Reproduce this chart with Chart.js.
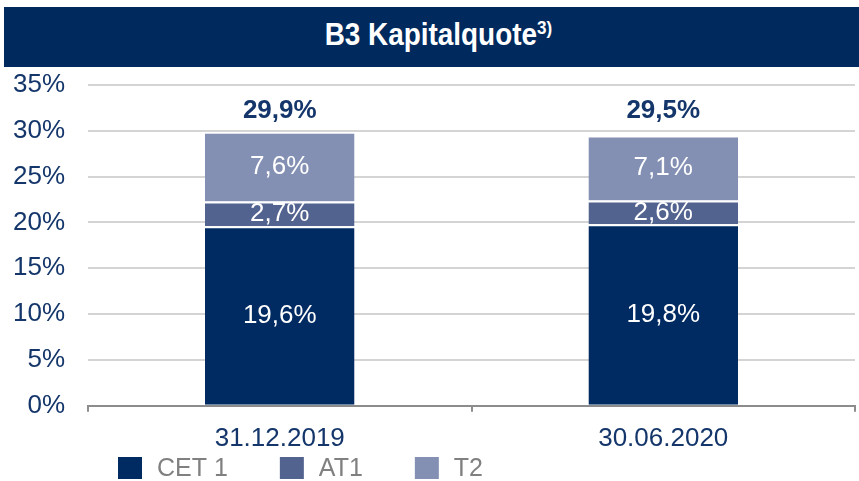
<!DOCTYPE html>
<html>
<head>
<meta charset="utf-8">
<script src="https://cdn.jsdelivr.net/npm/chart.js@4/dist/chart.umd.min.js"></script>
<style>
  html, body { margin: 0; padding: 0; background: #ffffff; }
  #wrap { position: relative; width: 859px; height: 481px; }
  #title {
    position: absolute; left: 4px; top: 7px; width: 855px; height: 60px;
    background: #002a5e; color: #ffffff; text-align: center;
    font-family: "Liberation Sans", Arial, sans-serif; font-weight: bold;
    font-size: 31px; line-height: 55px; padding-left: 14px; box-sizing: border-box;
    overflow: hidden; z-index: 2;
  }
  #title span { display: inline-block; transform: scale(0.9, 1); }
  #title sup { font-size: 19px; line-height: 0; vertical-align: 11px; }
  canvas { position: absolute; left: 0; top: 0; }
</style>
</head>
<body>
<div id="wrap">
  <div id="title"><span>B3 Kapitalquote<sup>3)</sup></span></div>
  <canvas id="c" width="859" height="481"></canvas>
</div>
<script>
const categories = ["31.12.2019", "30.06.2020"];
const seriesNames = ["CET 1", "AT1", "T2"];
const cet1 = [19.6, 19.8];
const at1 = [2.7, 2.6];
const t2 = [7.6, 7.1];
const totals = [29.9, 29.5];
const yTicks = [0, 5, 10, 15, 20, 25, 30, 35];

const colors = ["#002b62", "#52638f", "#8390b3"];
const navy = "#14366a";
const FONT = "'Liberation Sans', Arial, sans-serif";
const fmt = v => v.toFixed(1).replace('.', ',') + '%';

const labelPlugin = {
  id: 'barLabels',
  afterDatasetsDraw(chart) {
    const ctx = chart.ctx;
    ctx.save();
    ctx.textAlign = 'center';
    ctx.textBaseline = 'middle';
    ctx.font = "26px " + FONT;
    ctx.fillStyle = '#ffffff';
    chart.data.datasets.forEach((ds, di) => {
      const meta = chart.getDatasetMeta(di);
      meta.data.forEach((bar, i) => {
        const yc = (bar.y + bar.base) / 2;
        ctx.fillText(fmt(ds.data[i]), bar.x, yc);
      });
    });
    const ys = chart.scales.y;
    const topY = ys.getPixelForValue(Math.max(...totals)) - 21;
    ctx.font = "bold 26px " + FONT;
    ctx.fillStyle = navy;
    const meta0 = chart.getDatasetMeta(0);
    totals.forEach((t, i) => {
      ctx.fillText(fmt(t), meta0.data[i].x, topY);
    });
    ctx.restore();
  }
};

const legendPlugin = {
  id: 'customLegend',
  afterDraw(chart) {
    const ctx = chart.ctx;
    ctx.save();
    ctx.font = "25px " + FONT;
    ctx.textBaseline = 'middle';
    ctx.textAlign = 'left';
    let x = 118;
    const yc = 468;
    chart.data.datasets.forEach(ds => {
      ctx.fillStyle = ds.backgroundColor;
      ctx.fillRect(x, yc - 11, 24, 22);
      x += 24 + 15;
      ctx.fillStyle = '#808080';
      ctx.fillText(ds.label, x, yc + 1);
      x += ctx.measureText(ds.label).width + 52;
    });
    ctx.restore();
  }
};

const datasets = [cet1, at1, t2].map((d, k) => ({
  label: seriesNames[k],
  data: d,
  backgroundColor: colors[k],
  borderColor: '#ffffff',
  borderWidth: { top: 2, right: 0, bottom: 0, left: 0 },
  borderSkipped: 'bottom',
  barPercentage: 0.39,
  categoryPercentage: 1.0
}));

new Chart(document.getElementById('c'), {
  type: 'bar',
  data: { labels: categories, datasets },
  options: {
    responsive: false,
    animation: false,
    layout: { padding: { top: 85, right: 4, bottom: 16, left: 0 } },
    plugins: {
      legend: { display: false },
      title: { display: false },
      tooltip: { enabled: false }
    },
    scales: {
      x: {
        stacked: true,
        offset: true,
        grid: {
          display: true, drawOnChartArea: false, drawTicks: true,
          tickLength: 6, color: '#8c8c8c', lineWidth: 2, offset: true
        },
        border: { display: true, color: '#8c8c8c', width: 2 },
        ticks: { color: navy, font: { size: 26, family: FONT }, padding: 11 }
      },
      y: {
        stacked: true,
        min: 0, max: 35,
        afterBuildTicks(scale) { scale.ticks = yTicks.map(v => ({ value: v })); },
        afterFit(scale) { scale.width = 88; },
        grid: { color: '#d4d4d4', lineWidth: 2, drawTicks: false },
        border: { display: false },
        ticks: {
          color: navy, font: { size: 26, family: FONT }, padding: 23,
          callback: v => v + '%'
        }
      }
    }
  },
  plugins: [labelPlugin, legendPlugin]
});
</script>
</body>
</html>
